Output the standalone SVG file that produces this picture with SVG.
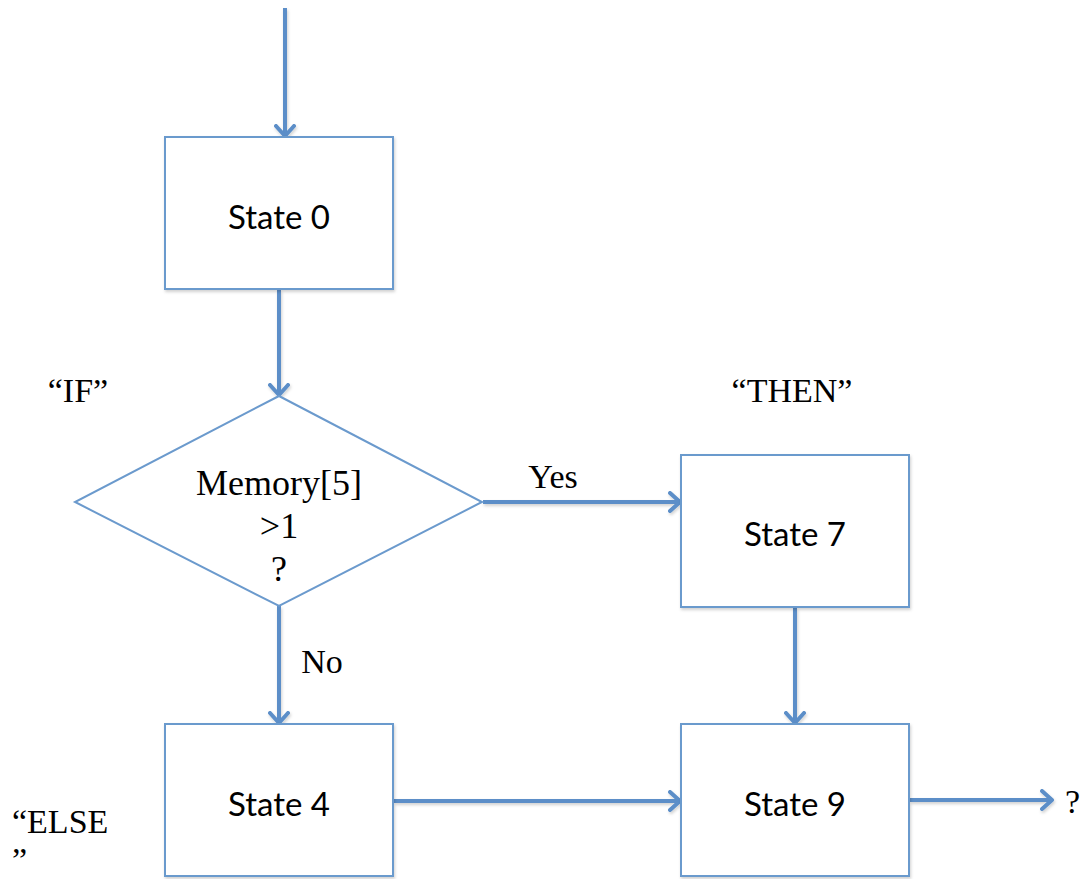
<svg xmlns="http://www.w3.org/2000/svg" width="1088" height="879" viewBox="0 0 1088 879">
  <defs>
    <style>
      .box { fill: #ffffff; stroke: #6b9acd; stroke-width: 2; }
      .link { fill: none; stroke: #5b8ec8; stroke-width: 4; marker-end: url(#head); }
      .state { font-family: Lato, "Liberation Sans", sans-serif; font-size: 33px; fill: #000; text-anchor: middle; }
      .note { font-family: "Liberation Serif", serif; font-size: 34px; fill: #000; text-anchor: middle; }
      .cond { font-size: 36px; }
      .left { text-anchor: start; }
    </style>
    <filter id="shade" x="-10%" y="-10%" width="120%" height="120%">
      <feDropShadow dx="1" dy="2" stdDeviation="1.5" flood-color="#000" flood-opacity="0.18"/>
    </filter>
    <marker id="head" viewBox="0 0 14 22" refX="12" refY="11" markerWidth="14" markerHeight="22" markerUnits="userSpaceOnUse" orient="auto">
      <path d="M2,2 L12,11 L2,20" fill="none" stroke="#5b8ec8" stroke-width="4" stroke-linecap="round" stroke-linejoin="round"/>
    </marker>
  </defs>
  <rect width="1088" height="879" fill="#ffffff"/>

  <!-- connectors -->
  <g id="connectors" filter="url(#shade)">
    <path class="link" d="M285,8 L285,136"/>
    <path class="link" d="M279,290 L279,395"/>
    <path class="link" d="M483,502 L680,502"/>
    <path class="link" d="M279,606 L279,723"/>
    <path class="link" d="M795,608 L795,723"/>
    <path class="link" d="M394,801 L680,801"/>
    <path class="link" d="M910,800 L1052,800"/>
  </g>

  <!-- nodes -->
  <g id="state0">
    <rect class="box" x="165" y="137" width="228" height="152" filter="url(#shade)"/>
    <text class="state" x="279" y="229">State 0</text>
  </g>
  <g id="decision">
    <polygon class="box" points="279,396 482,502 279,606 75,502"/>
    <text class="note cond" x="279" y="495">Memory[5]</text>
    <text class="note cond" x="279" y="538">&gt;1</text>
    <text class="note cond" x="279" y="581">?</text>
  </g>
  <g id="state7">
    <rect class="box" x="681" y="455" width="228" height="152" filter="url(#shade)"/>
    <text class="state" x="795" y="546">State 7</text>
  </g>
  <g id="state4">
    <rect class="box" x="165" y="724" width="228" height="152" filter="url(#shade)"/>
    <text class="state" x="279" y="816">State 4</text>
  </g>
  <g id="state9">
    <rect class="box" x="681" y="724" width="228" height="152" filter="url(#shade)"/>
    <text class="state" x="795" y="816">State 9</text>
  </g>

  <!-- labels -->
  <g id="labels">
    <text class="note" x="553" y="488">Yes</text>
    <text class="note" x="322" y="673">No</text>
    <text class="note" x="78" y="402">“IF”</text>
    <text class="note" x="792" y="402">“THEN”</text>
    <text class="note left" x="12" y="833">“ELSE<tspan x="12" dy="38">”</tspan></text>
    <text class="note left" x="1065" y="813">?</text>
  </g>
</svg>
